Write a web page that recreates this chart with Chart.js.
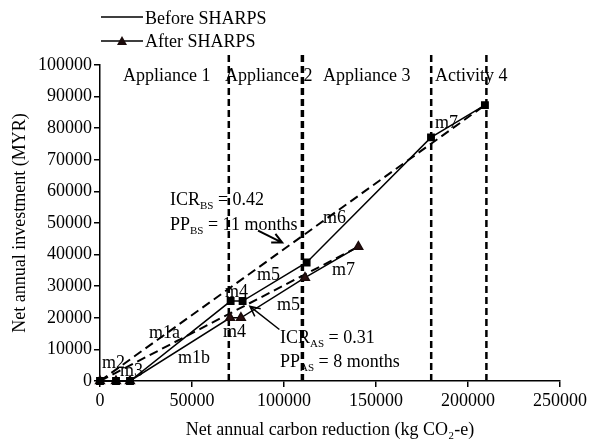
<!DOCTYPE html>
<html>
<head>
<meta charset="utf-8">
<script src="https://cdn.jsdelivr.net/npm/chart.js@4/dist/chart.umd.min.js"></script>
<style>
  body { margin: 0; background: #fff; }
  canvas { display: block; }
</style>
</head>
<body>
<canvas id="myChart" width="593" height="443"></canvas>
<script>
// data
const beforeX = [0, 8700, 16300, 71000, 77500, 112300, 179900, 209200];
const beforeY = [0, 0, 0, 25300, 25300, 37500, 77100, 87300];
const afterX = [0, 8700, 16300, 70700, 76600, 111400, 140400];
const afterY = [0, 0, 0, 20000, 20000, 32700, 42500];

// ICR lines (origin to end point)
const icrBsX = [0, 209200];
const icrBsY = [0, 87300];
const icrAsX = [0, 140400];
const icrAsY = [0, 42500];

// boundaries between the stages
const boundaryX = [70000, 110000, 180000, 210000];
const boundaryTop = 104200;
const regionNames = ['Appliance 1', 'Appliance 2', 'Appliance 3', 'Activity 4'];
const regionLabelX = [12500, 67900, 121200, 182100];
const regionLabelY = 95000;

// measure labels [text, x, y]
const measureLabels = [
    ['m2', 1100, 4100],
    ['m3', 10900, 1600],
    ['m1a', 26600, 13600],
    ['m1b', 42400, 5700],
    ['m4', 67900, 26600],
    ['m4', 66800, 13900],
    ['m5', 85300, 32000],
    ['m5', 96200, 22500],
    ['m6', 121200, 50000],
    ['m7', 126100, 33500],
    ['m7', 182100, 80100]
];

const FONT = "'Liberation Serif', 'Times New Roman', serif";

function toPoints(xs, ys) {
    let pts = [];
    for (let i = 0; i < xs.length; i++) {
        pts.push({x: xs[i], y: ys[i]});
    }
    return pts;
}

function subText(ctx, x, y, main, sub, rest) {
    ctx.font = '18px ' + FONT;
    ctx.fillText(main, x, y);
    let w = ctx.measureText(main).width;
    ctx.font = '11px ' + FONT;
    ctx.fillText(sub, x + w, y + 4);
    let w2 = ctx.measureText(sub).width;
    ctx.font = '18px ' + FONT;
    ctx.fillText(rest, x + w + w2, y);
}

function arrow(ctx, x1, y1, x2, y2) {
    ctx.beginPath();
    ctx.moveTo(x1, y1);
    ctx.lineTo(x2, y2);
    let a = Math.atan2(y2 - y1, x2 - x1);
    let len = 11;
    ctx.moveTo(x2 - len * Math.cos(a - 0.45), y2 - len * Math.sin(a - 0.45));
    ctx.lineTo(x2, y2);
    ctx.lineTo(x2 - len * Math.cos(a + 0.45), y2 - len * Math.sin(a + 0.45));
    ctx.stroke();
}

const annotations = {
    id: 'annotations',
    afterDatasetsDraw(chart) {
        const ctx = chart.ctx;
        const xs = chart.scales.x;
        const ys = chart.scales.y;
        ctx.save();
        ctx.fillStyle = '#000';
        ctx.strokeStyle = '#000';
        ctx.textBaseline = 'alphabetic';
        ctx.textAlign = 'left';
        ctx.font = '18px ' + FONT;

        regionNames.forEach((name, i) => {
            ctx.fillText(name, xs.getPixelForValue(regionLabelX[i]), ys.getPixelForValue(regionLabelY));
        });

        measureLabels.forEach(m => {
            ctx.fillText(m[0], xs.getPixelForValue(m[1]), ys.getPixelForValue(m[2]));
        });

        subText(ctx, xs.getPixelForValue(38000), ys.getPixelForValue(55700), 'ICR', 'BS', ' = 0.42');
        subText(ctx, xs.getPixelForValue(38000), ys.getPixelForValue(47800), 'PP', 'BS', ' = 11 months');
        subText(ctx, xs.getPixelForValue(97800), ys.getPixelForValue(12000), 'ICR', 'AS', ' = 0.31');
        subText(ctx, xs.getPixelForValue(97800), ys.getPixelForValue(4400), 'PP', 'AS', ' = 8 months');

        ctx.lineWidth = 2;
        arrow(ctx, xs.getPixelForValue(85900), ys.getPixelForValue(47600),
                   xs.getPixelForValue(99000), ys.getPixelForValue(43800));
        ctx.lineWidth = 1.5;
        arrow(ctx, xs.getPixelForValue(97500), ys.getPixelForValue(16300),
                   xs.getPixelForValue(81500), ys.getPixelForValue(23600));

        // legend
        ctx.lineWidth = 1.5;
        ctx.beginPath();
        ctx.moveTo(101, 17);
        ctx.lineTo(143, 17);
        ctx.moveTo(101, 41);
        ctx.lineTo(143, 41);
        ctx.stroke();
        ctx.fillStyle = '#1a0a0a';
        ctx.beginPath();
        ctx.moveTo(122, 36);
        ctx.lineTo(127, 45);
        ctx.lineTo(117, 45);
        ctx.closePath();
        ctx.fill();
        ctx.fillStyle = '#000';
        ctx.font = '18px ' + FONT;
        ctx.fillText('Before SHARPS', 145, 24);
        ctx.fillText('After SHARPS', 145, 47);
        ctx.restore();
    }
};

let datasets = [
    {
        label: 'Before SHARPS',
        data: toPoints(beforeX, beforeY),
        showLine: true,
        borderColor: '#000',
        borderWidth: 1.5,
        pointStyle: 'rect',
        pointRadius: 4.5,
        pointBackgroundColor: '#000',
        pointBorderColor: '#000',
        clip: false
    },
    {
        label: 'After SHARPS',
        data: toPoints(afterX, afterY),
        showLine: true,
        borderColor: '#000',
        borderWidth: 1.5,
        pointStyle: 'triangle',
        pointRadius: 5,
        pointBackgroundColor: '#2a1010',
        pointBorderColor: '#1a0a0a',
        clip: false
    },
    {
        label: 'ICR BS',
        data: toPoints(icrBsX, icrBsY),
        showLine: true,
        borderColor: '#000',
        borderWidth: 2,
        borderDash: [9, 5],
        pointRadius: 0
    },
    {
        label: 'ICR AS',
        data: toPoints(icrAsX, icrAsY),
        showLine: true,
        borderColor: '#000',
        borderWidth: 2,
        borderDash: [9, 5],
        pointRadius: 0
    }
];

boundaryX.forEach((bx, i) => {
    datasets.push({
        label: 'boundary' + i,
        data: [{x: bx, y: 0}, {x: bx, y: boundaryTop}],
        showLine: true,
        borderColor: '#000',
        borderWidth: i === 1 ? 3.5 : 2.5,
        borderDash: [7, 4],
        pointRadius: 0,
        clip: false
    });
});

const ctx = document.getElementById('myChart').getContext('2d');
const chart = new Chart(ctx, {
    type: 'scatter',
    data: { datasets: datasets },
    options: {
        responsive: false,
        animation: false,
        devicePixelRatio: 1,
        layout: { padding: { left: 0, top: 65, right: 33, bottom: 0 } },
        plugins: {
            legend: { display: false },
            tooltip: { enabled: false }
        },
        scales: {
            x: {
                type: 'linear',
                min: 0,
                max: 250000,
                afterFit: s => { s.height = 62; },
                ticks: {
                    stepSize: 50000,
                    color: '#000',
                    padding: 3,
                    maxRotation: 0,
                    callback: v => String(v),
                    font: { family: FONT, size: 18 }
                },
                grid: { drawOnChartArea: false, drawTicks: true, tickLength: 6, color: '#000', lineWidth: 1.5 },
                border: { color: '#000', width: 1.5 },
                title: {
                    display: true,
                    text: 'Net annual carbon reduction (kg CO₂-e)',
                    color: '#000',
                    font: { family: FONT, size: 18 },
                    padding: { top: 0, bottom: 2 }
                }
            },
            y: {
                min: 0,
                max: 100000,
                afterFit: s => { s.width = 100; },
                ticks: {
                    stepSize: 10000,
                    color: '#000',
                    padding: 2,
                    callback: v => String(v),
                    font: { family: FONT, size: 18 }
                },
                grid: { drawOnChartArea: false, drawTicks: true, tickLength: 6, color: '#000', lineWidth: 1.5 },
                border: { color: '#000', width: 1.5 },
                title: {
                    display: true,
                    text: 'Net annual investment (MYR)',
                    color: '#000',
                    font: { family: FONT, size: 18 },
                    padding: { top: 9, bottom: 0 }
                }
            }
        }
    },
    plugins: [annotations]
});
</script>
</body>
</html>
